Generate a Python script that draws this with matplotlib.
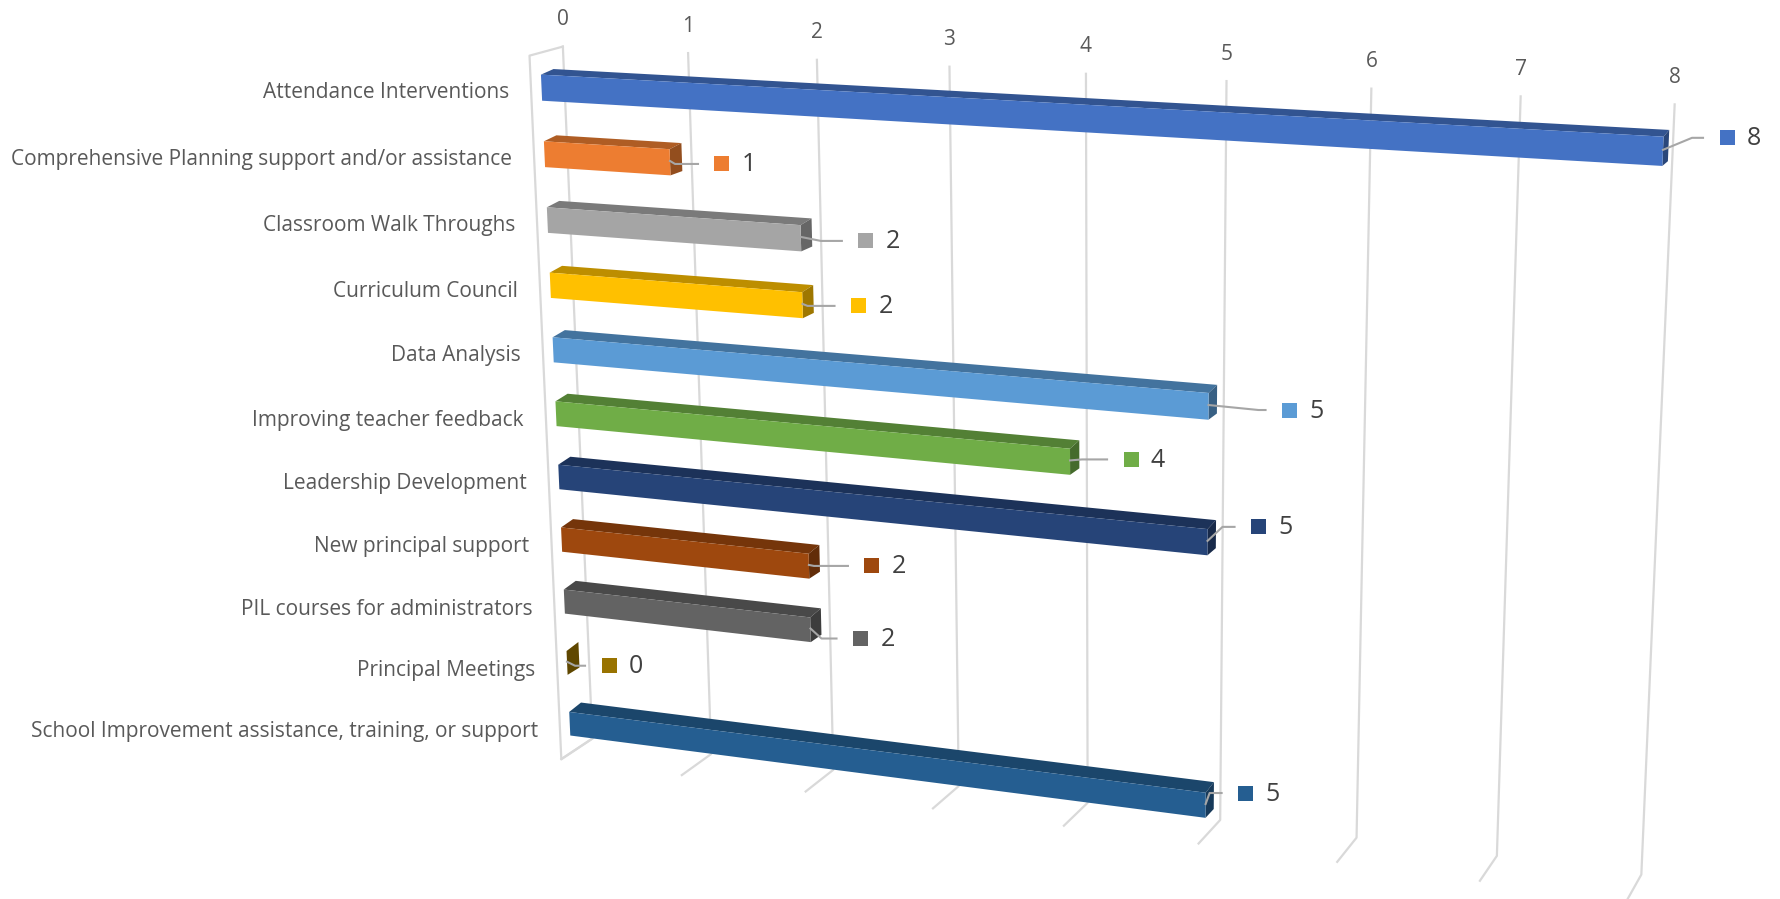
import numpy as np
import matplotlib
matplotlib.use("Agg")
import matplotlib.pyplot as plt
from matplotlib.colors import to_rgb

plt.rcParams["font.family"] = ["Open Sans", "DejaVu Sans"]

CATEGORIES = [
    "Attendance Interventions",
    "Comprehensive Planning support and/or assistance",
    "Classroom Walk Throughs",
    "Curriculum Council",
    "Data Analysis",
    "Improving teacher feedback",
    "Leadership Development",
    "New principal support",
    "PIL courses for administrators",
    "Principal Meetings",
    "School Improvement assistance, training, or support",
]
VALUES = [8, 1, 2, 2, 5, 4, 5, 2, 2, 0, 5]
COLORS = ["#4472C4", "#ED7D31", "#A5A5A5", "#FFC000", "#5B9BD5", "#70AD47",
          "#264478", "#9E480E", "#636363", "#997300", "#255E91"]
VALUE_TICKS = [0, 1, 2, 3, 4, 5, 6, 7, 8]

# data label layout, pixels relative to the bar end
KEY_DX = [64, 52, 65, 56, 81, 61, 51, 63, 50, 42, 40]
KEY_DY = [-12, 3, 4, 2, 5, -1, -14, 1, 10, 4, -11]
ELBOW_DX = [29, 5, 20, 5, 50, 12, 15, 5, 11, 8, 4]

BOX_POINTS = [
    ((0, 0, 0), (563, 47)), ((1, 0, 0), (688, 53)), ((2, 0, 0), (817, 59)),
    ((3, 0, 0), (950, 67)), ((4, 0, 0), (1086, 74)), ((5, 0, 0), (1226, 82)),
    ((6, 0, 0), (1372, 88)), ((7, 0, 0), (1521, 96)), ((8, 0, 0), (1674, 104)),
    ((0, 11, 0), (592, 738)), ((1, 11, 0), (712, 753)), ((2, 11, 0), (833, 770)),
    ((3, 11, 0), (958, 786)), ((5, 11, 0), (1221, 821)), ((6, 11, 0), (1356, 838)),
    ((7, 11, 0), (1497, 856)), ((8, 11, 0), (1641, 875)),
    ((0, 0, 1), (529, 56)), ((0, 11, 1), (561, 759)), ((1, 11, 1), (682, 775)),
    ((2, 11, 1), (806, 792)), ((3, 11, 1), (933, 809)), ((5, 11, 1), (1199, 843)),
    ((6, 11, 1), (1337, 862)), ((7, 11, 1), (1480, 881)), ((8, 11, 1), (1627, 899)),
]

ROWS = 11
BAR_HALF = 0.215
Z_BACK = 0.31
Z_FRONT = 0.69
GRID = "#D9D9D9"
TEXT = "#595959"
DARK_TEXT = "#404040"


def fit_camera(points):
    rows = []
    for (v, r, z), (px, py) in points:
        px, py = px / 1000, py / 1000
        rows.append([v, r, z, 1, 0, 0, 0, 0, -px * v, -px * r, -px * z, -px])
        rows.append([0, 0, 0, 0, v, r, z, 1, -py * v, -py * r, -py * z, -py])
    _, _, vt = np.linalg.svd(np.array(rows, dtype=float))
    return vt[-1].reshape(3, 4)


CAMERA = fit_camera(BOX_POINTS)


def project(v, r, z):
    x, y, w = CAMERA @ np.array([v, r, z, 1.0])
    return 1000 * x / w, 1000 * y / w


def shade(color, factor):
    return tuple(c * factor for c in to_rgb(color))


def draw_box(ax):
    left = [project(0, 0, 0), project(0, 0, 1), project(0, ROWS, 1), project(0, ROWS, 0)]
    ax.plot(*zip(*left), color=GRID, lw=1.6, zorder=1)
    for v in VALUE_TICKS:
        line = [project(v, 0, 0), project(v, ROWS, 0), project(v, ROWS, 1)]
        ax.plot(*zip(*line), color=GRID, lw=1.6, zorder=1)
        x, y = project(v, 0, 0)
        ax.text(x, y - 27, str(v), ha="center", va="center", fontsize=15, color=TEXT)


def draw_bar(ax, i, value, color):
    # the top face reads thicker than the fitted camera gives, so nudge its edges
    top_front = i + 0.5 - BAR_HALF + 0.04
    top_back = i + 0.5 - BAR_HALF + 0.01
    bot = i + 0.5 + BAR_HALF
    front = [project(0, top_front, Z_FRONT), project(value, top_front, Z_FRONT),
             project(value, bot, Z_FRONT), project(0, bot, Z_FRONT)]
    upper = [project(0, top_back, Z_BACK), project(value, top_back, Z_BACK),
             project(value, top_front, Z_FRONT), project(0, top_front, Z_FRONT)]
    side = [project(value, top_back, Z_BACK), project(value, bot, Z_BACK),
            project(value, bot, Z_FRONT), project(value, top_front, Z_FRONT)]
    z = 3
    ax.fill(*zip(*upper), color=shade(color, 0.74), lw=0, zorder=z)
    ax.fill(*zip(*side), color=shade(color, 0.62), lw=0, zorder=z)
    ax.fill(*zip(*front), color=color, lw=0, zorder=z)


def draw_value_label(ax, i, value, color):
    ex, ey = project(value, i + 0.5, Z_FRONT)
    kx, ky = ex + KEY_DX[i], ey + KEY_DY[i]
    elbow = (ex + ELBOW_DX[i], ky)
    ax.plot([ex, elbow[0], kx - 24], [ey, ky, ky], color="#A6A6A6", lw=1.5, zorder=4)
    ax.add_patch(plt.Rectangle((kx - 7.5, ky - 7.5), 15, 15, color=color, lw=0, zorder=5))
    ax.text(kx + 27, ky + 1, str(value), ha="center", va="center", fontsize=18, color=DARK_TEXT)


def main():
    fig = plt.figure(figsize=(17.8, 8.99), dpi=100)
    ax = fig.add_axes([0, 0, 1, 1])
    ax.set_xlim(0, 1780)
    ax.set_ylim(899, 0)
    ax.axis("off")

    draw_box(ax)
    for i, (name, value, color) in enumerate(zip(CATEGORIES, VALUES, COLORS)):
        draw_bar(ax, i, value, color)
        draw_value_label(ax, i, value, color)
        x, y = project(0, i + 0.5, 1)
        ax.text(x - 22, y + 3, name, ha="right", va="center", fontsize=15, color=TEXT)

    fig.savefig("out.png", dpi=100)


if __name__ == "__main__":
    main()
